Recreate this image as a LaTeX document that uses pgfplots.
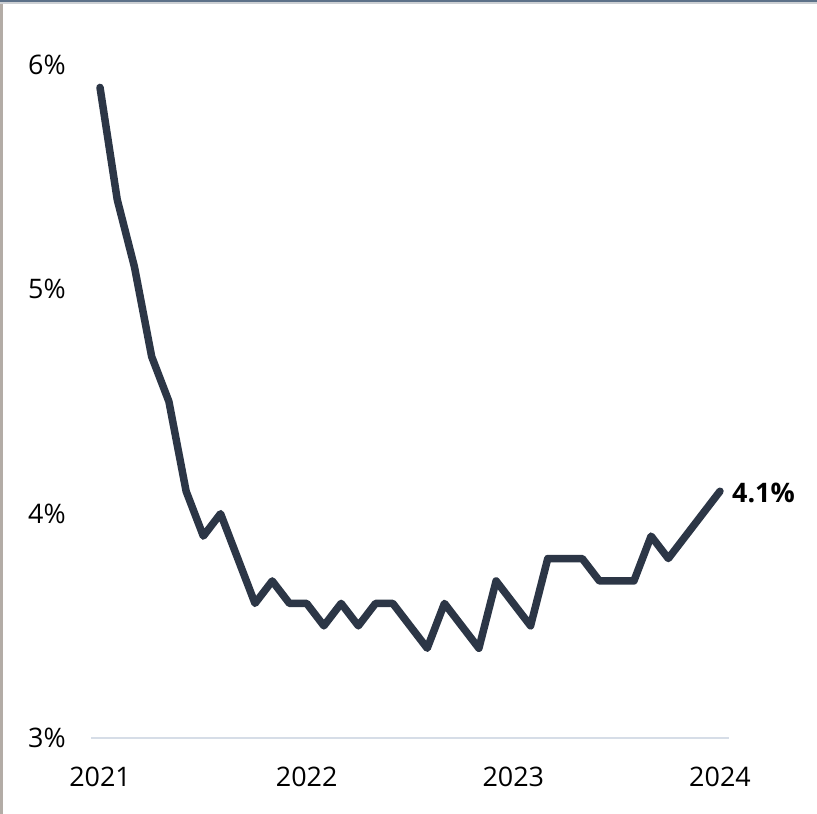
\documentclass[border=0pt]{standalone}
\usepackage{fontspec}
\setmainfont{Open Sans}
\usepackage{pgfplots}
\pgfplotsset{compat=1.18}
\definecolor{linecol}{HTML}{2C3646}
\definecolor{gridcol}{HTML}{D6DDE7}
\definecolor{topdark}{HTML}{5D7189}
\definecolor{toplight}{HTML}{CDD0D4}
\definecolor{leftcol}{HTML}{B3ACA6}
\pgfplotstableread{
idx rate
0 5.9
1 5.4
2 5.1
3 4.7
4 4.5
5 4.1
6 3.9
7 4.0
8 3.8
9 3.6
10 3.7
11 3.6
12 3.6
13 3.5
14 3.6
15 3.5
16 3.6
17 3.6
18 3.5
19 3.4
20 3.6
21 3.5
22 3.4
23 3.7
24 3.6
25 3.5
26 3.8
27 3.8
28 3.8
29 3.7
30 3.7
31 3.7
32 3.9
33 3.8
34 3.9
35 4.0
36 4.1
}\ratedata
\begin{document}
\begin{tikzpicture}
\useasboundingbox (0,0) rectangle (817bp,814bp);
\fill[white] (0,0) rectangle (817bp,814bp);
\fill[topdark] (0,812bp) rectangle (817bp,814bp);
\fill[toplight] (0,809.5bp) rectangle (817bp,812bp);
\fill[leftcol] (0,0) rectangle (2.5bp,809.5bp);
\begin{axis}[
  at={(91.4bp,76bp)}, anchor=south west,
  scale only axis,
  width=637.2bp, height=673bp,
  xmin=-0.5, xmax=36.5,
  ymin=3, ymax=6,
  clip=false,
  axis lines*=left,
  x axis line style={draw=gridcol, line width=2bp, -},
  y axis line style={draw=none},
  major tick length=0pt,
  xtick={0,12,24,36},
  xticklabels={2021,2022,2023,2024},
  ytick={3,4,5,6},
  yticklabels={3\%,4\%,5\%,6\%},
  tick label style={font=\fontsize{27}{30}\selectfont, inner sep=0pt},
  yticklabel style={anchor=west, xshift=-63.4bp},
  xticklabel style={anchor=north, yshift=-29bp},
  /pgf/number format/assume math mode=true,
]
\addplot[linecol, line width=7.5bp, line join=round, line cap=round] table[x=idx, y=rate] {\ratedata};
\node[anchor=west, inner sep=0pt, xshift=12bp, yshift=-2bp, font=\fontsize{27}{30}\selectfont\bfseries] at (axis cs:36,4.1) {4.1\%};
\end{axis}
\end{tikzpicture}
\end{document}
